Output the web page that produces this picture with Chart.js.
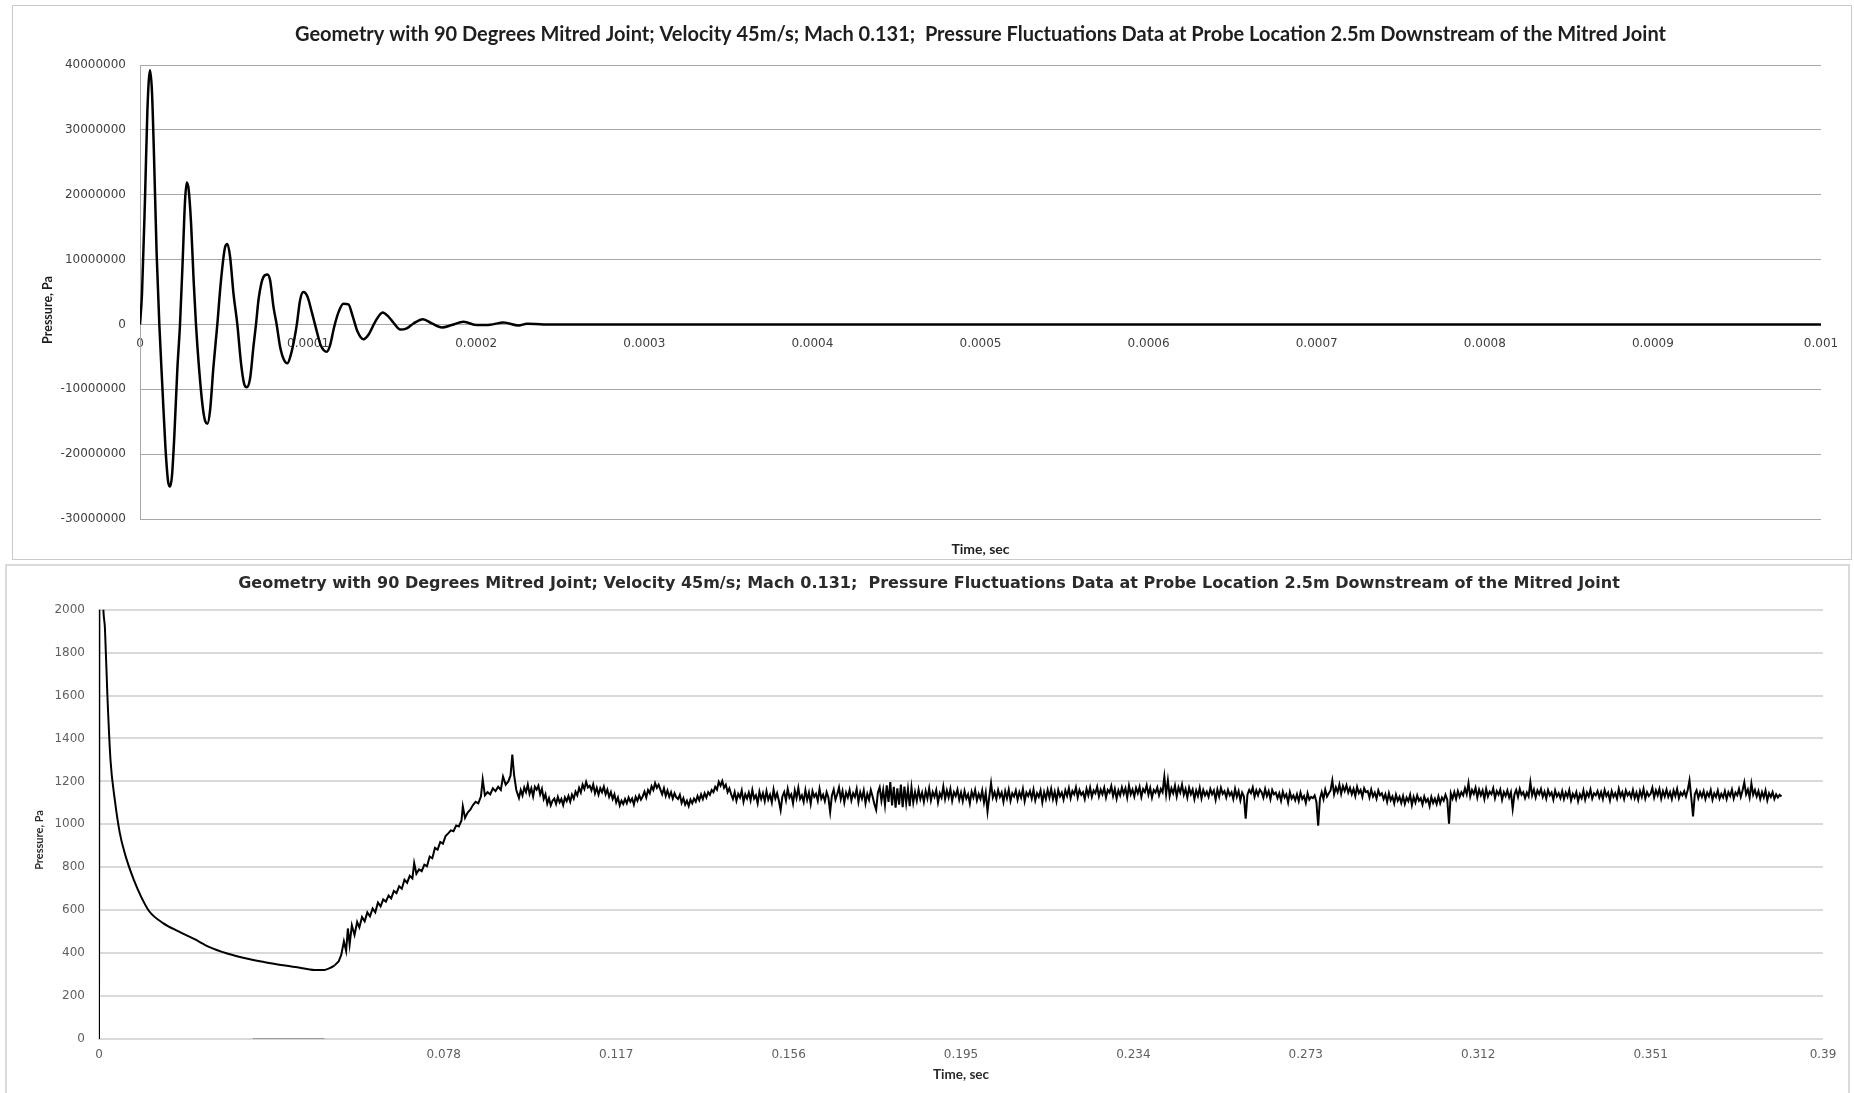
<!DOCTYPE html>
<html>
<head>
<meta charset="utf-8">
<title>Pressure fluctuations – 90° mitred joint</title>
<script src="https://cdn.jsdelivr.net/npm/chart.js@4.4.1/dist/chart.umd.min.js"></script>
<style>
  html, body { margin: 0; padding: 0; background: #fff; width: 1854px; height: 1093px; overflow: hidden; }
  .panel { position: absolute; box-sizing: border-box; background: #fff; }
  #panelA { left: 12px; top: 5px; width: 1840px; height: 555px; border: 1px solid #c9c9c9; }
  #panelB { left: 5px; top: 564px; width: 1845px; height: 540px; border: 2px solid #dadada; }
  canvas { display: block; }
</style>
</head>
<body>
<div class="panel" id="panelA"><canvas id="chartA" width="1838" height="553"></canvas></div>
<div class="panel" id="panelB"><canvas id="chartB" width="1841" height="527"></canvas></div>
<script>
const chartTitle = 'Geometry with 90 Degrees Mitred Joint; Velocity 45m/s; Mach 0.131;  Pressure Fluctuations Data at Probe Location 2.5m Downstream of the Mitred Joint';

// ---- Panel A: initial pressure transient, first millisecond ----
// time in microseconds
const timeA_us = [
  0, 1.2, 3.0, 4.4, 5.95, 7.1, 8.3, 9.9, 11.5, 13.3,
  15.1, 16.7, 17.9, 19.0, 20.4, 22.2, 23.8, 25.4, 26.8, 27.8,
  28.9, 30.4, 31.9, 33.3, 34.9, 37.3, 38.9, 40.1, 41.7, 43.7,
  46.0, 48.0, 50.6, 52.0, 53.6, 55.6, 57.9, 60.1, 61.9, 63.5,
  65.5, 67.5, 69.0, 70.6, 73.4, 75.8, 77.4, 79.4, 81.3, 83.3,
  85.7, 87.7, 89.7, 91.7, 93.3, 95.2, 97.2, 99.6, 102.2, 105.2,
  107.5, 111.1, 113.1, 115.5, 118.1, 121.0, 124.0, 126.6, 129.4, 132.9,
  135.9, 139.9, 144.4, 147.8, 150.8, 154.8, 158.7, 162.7, 168.3, 173.6,
  179.6, 185.5, 192.5, 200.4, 208.3, 216.3, 225.2, 230.2, 240, 1000
];
// pressure in Pa
const pressureA = [
  0, 4800000, 19600000, 33000000, 39200000, 36000000, 26300000, 10900000, 0, -9600000,
  -18800000, -24200000, -25000000, -23400000, -17300000, -7000000, 0, 9900000, 19100000, 21900000,
  20900000, 15500000, 6800000, 0, -6000000, -12700000, -15000000, -15300000, -13200000, -6500000,
  0, 6300000, 11900000, 12400000, 10400000, 4800000, 0, -6000000, -9100000, -9700000,
  -8300000, -3400000, 0, 4000000, 7300000, 7700000, 6800000, 2700000, 0, -3400000,
  -5500000, -6000000, -4700000, -2400000, 0, 3700000, 5000000, 4300000, 1900000, -1100000,
  -3200000, -4200000, -3200000, -400000, 1900000, 3200000, 3100000, 1200000, -1100000, -2300000,
  -1600000, 400000, 1850000, 1200000, 260000, -800000, -600000, 150000, 800000, 150000,
  -460000, -100000, 400000, -100000, -50000, 300000, -150000, 100000, 0, 0
];
const xTicksA = [0, 0.0001, 0.0002, 0.0003, 0.0004, 0.0005, 0.0006, 0.0007, 0.0008, 0.0009, 0.001];
const xTickLabelsA = ['0', '0.0001', '0.0002', '0.0003', '0.0004', '0.0005', '0.0006', '0.0007', '0.0008', '0.0009', '0.001'];
const yTicksA = [-30000000, -20000000, -10000000, 0, 10000000, 20000000, 30000000, 40000000];
const yTickLabelsA = ['-30000000', '-20000000', '-10000000', '0', '10000000', '20000000', '30000000', '40000000'];

// ---- Panel B: pressure history over the whole run ----
// start-up spike and smooth decay (time in ms, pressure in Pa)
const decayTimeB_ms = [
  0, 0.15, 0.9, 1.35, 1.9, 2.6, 3.6, 4.7, 5.9, 7.9,
  9.6, 11.4, 14.5, 18.0, 21.5, 25.0, 29.0, 33.1, 37.5, 42.1,
  46.0, 49.2, 51.0, 52.2, 53.3
];
const decayPressureB = [
  0, 3000, 2050, 1910, 1600, 1300, 1110, 960, 860, 740,
  660, 594, 540, 501, 466, 428, 398, 376, 358, 342,
  330, 321, 322, 330, 343
];
// recovery and fluctuating plateau (time in ms, pressure in Pa)
const timeB_ms = [
  53.3,
  54.2, 54.8, 55.4, 55.9, 56.3, 56.7, 57.2, 57.8, 58.4, 58.9,
  59.5, 60.1, 60.7, 61.3, 61.9, 62.5, 63.1, 63.7, 64.3, 64.9,
  65.5, 66.1, 66.7, 67.3, 67.9, 68.5, 69.1, 69.7, 70.3, 70.9,
  71.3, 71.8, 72.4, 73.0, 73.6, 74.2, 74.8, 75.4, 76.0, 76.6,
  77.2, 77.8, 78.4, 79.0, 79.6, 80.2, 80.8, 81.4, 82.0, 82.3,
  82.8, 83.4, 84.0, 84.6, 85.2, 85.8, 86.4, 86.8, 87.3, 87.9,
  88.5, 89.1, 89.7, 90.3, 90.9, 91.4, 92.0, 92.6, 93.1, 93.5,
  93.9, 94.4,
  95.0, 95.4, 95.8, 96.2, 96.6, 97.0, 97.4, 97.8, 98.2, 98.6,
  99.0, 99.4, 99.8, 100.2, 100.6, 101.0, 101.4, 101.8, 102.2, 102.6,
  103.0, 103.4, 103.8, 104.2, 104.6, 105.0, 105.4, 105.8, 106.2, 106.6,
  107.0, 107.4, 107.8, 108.2, 108.6, 109.0, 109.4, 109.8, 110.2, 110.6,
  111.0, 111.4, 111.8, 112.2, 112.6, 113.0, 113.4, 113.8, 114.2, 114.6,
  115.0, 115.4, 115.8, 116.2, 116.6, 117.0, 117.4, 117.8, 118.2, 118.6,
  119.0, 119.4, 119.8, 120.2, 120.6, 121.0, 121.4, 121.8, 122.2, 122.6,
  123.0, 123.4, 123.8, 124.2, 124.6, 125.0, 125.4, 125.8, 126.2, 126.6,
  127.0, 127.4, 127.8, 128.2, 128.6, 129.0, 129.4, 129.8, 130.2, 130.6,
  131.0, 131.4, 131.8, 132.2, 132.6, 133.0, 133.4, 133.8, 134.2, 134.6,
  135.0, 135.4, 135.8, 136.2, 136.6, 137.0, 137.4, 137.8, 138.2, 138.6,
  139.0, 139.4, 139.8, 140.2, 140.6, 141.0, 141.4, 141.8, 142.2, 142.6,
  143.0, 143.4, 143.8, 144.2, 144.6, 145.0, 145.4, 145.8, 146.2, 146.6,
  147.0, 147.4, 147.8, 148.2, 148.6, 149.0, 149.4, 149.8, 150.2, 150.6,
  151.0, 151.4, 151.8, 152.2, 152.6, 153.0, 153.4, 153.8, 154.2, 154.6,
  155.0, 155.4, 155.8, 156.2, 156.6, 157.0, 157.4, 157.8, 158.2, 158.6,
  159.0, 159.4, 159.8, 160.2, 160.6, 161.0, 161.4, 161.8, 162.2, 162.6,
  163.0, 163.4, 163.8, 164.2, 164.6, 165.0, 165.4, 165.8, 166.2, 166.6,
  167.0, 167.4, 167.8, 168.2, 168.6, 169.0, 169.4, 169.8, 170.2, 170.6,
  171.0, 171.4, 171.8, 172.2, 172.6, 173.0, 173.4, 173.8, 174.2, 174.6,
  175.0, 175.4, 175.8, 176.2, 176.6, 177.0, 177.4, 177.8, 178.2, 178.6,
  179.0, 179.4, 179.8, 180.2, 180.6, 181.0, 181.4, 181.8, 182.2, 182.6,
  183.0, 183.4, 183.8, 184.2, 184.6, 185.0, 185.4, 185.8, 186.2, 186.6,
  187.0, 187.4, 187.8, 188.2, 188.6, 189.0, 189.4, 189.8, 190.2, 190.6,
  191.0, 191.4, 191.8, 192.2, 192.6, 193.0, 193.4, 193.8, 194.2, 194.6,
  195.0, 195.4, 195.8, 196.2, 196.6, 197.0, 197.4, 197.8, 198.2, 198.6,
  199.0, 199.4, 199.8, 200.2, 200.6, 201.0, 201.4, 201.8, 202.2, 202.6,
  203.0, 203.4, 203.8, 204.2, 204.6, 205.0, 205.4, 205.8, 206.2, 206.6,
  207.0, 207.4, 207.8, 208.2, 208.6, 209.0, 209.4, 209.8, 210.2, 210.6,
  211.0, 211.4, 211.8, 212.2, 212.6, 213.0, 213.4, 213.8, 214.2, 214.6,
  215.0, 215.4, 215.8, 216.2, 216.6, 217.0, 217.4, 217.8, 218.2, 218.6,
  219.0, 219.4, 219.8, 220.2, 220.6, 221.0, 221.4, 221.8, 222.2, 222.6,
  223.0, 223.4, 223.8, 224.2, 224.6, 225.0, 225.4, 225.8, 226.2, 226.6,
  227.0, 227.4, 227.8, 228.2, 228.6, 229.0, 229.4, 229.8, 230.2, 230.6,
  231.0, 231.4, 231.8, 232.2, 232.6, 233.0, 233.4, 233.8, 234.2, 234.6,
  235.0, 235.4, 235.8, 236.2, 236.6, 237.0, 237.4, 237.8, 238.2, 238.6,
  239.0, 239.4, 239.8, 240.2, 240.6, 241.0, 241.4, 241.8, 242.2, 242.6,
  243.0, 243.4, 243.8, 244.2, 244.6, 245.0, 245.4, 245.8, 246.2, 246.6,
  247.0, 247.4, 247.8, 248.2, 248.6, 249.0, 249.4, 249.8, 250.2, 250.6,
  251.0, 251.4, 251.8, 252.2, 252.6, 253.0, 253.4, 253.8, 254.2, 254.6,
  255.0, 255.4, 255.8, 256.2, 256.6, 257.0, 257.4, 257.8, 258.2, 258.6,
  259.0, 259.4, 259.8, 260.2, 260.6, 261.0, 261.4, 261.8, 262.2, 262.6,
  263.0, 263.4, 263.8, 264.2, 264.6, 265.0, 265.4, 265.8, 266.2, 266.6,
  267.0, 267.4, 267.8, 268.2, 268.6, 269.0, 269.4, 269.8, 270.2, 270.6,
  271.0, 271.4, 271.8, 272.2, 272.6, 273.0, 273.4, 273.8, 274.2, 274.6,
  275.0, 275.4, 275.8, 276.2, 276.6, 277.0, 277.4, 277.8, 278.2, 278.6,
  279.0, 279.4, 279.8, 280.2, 280.6, 281.0, 281.4, 281.8, 282.2, 282.6,
  283.0, 283.4, 283.8, 284.2, 284.6, 285.0, 285.4, 285.8, 286.2, 286.6,
  287.0, 287.4, 287.8, 288.2, 288.6, 289.0, 289.4, 289.8, 290.2, 290.6,
  291.0, 291.4, 291.8, 292.2, 292.6, 293.0, 293.4, 293.8, 294.2, 294.6,
  295.0, 295.4, 295.8, 296.2, 296.6, 297.0, 297.4, 297.8, 298.2, 298.6,
  299.0, 299.4, 299.8, 300.2, 300.6, 301.0, 301.4, 301.8, 302.2, 302.6,
  303.0, 303.4, 303.8, 304.2, 304.6, 305.0, 305.4, 305.8, 306.2, 306.6,
  307.0, 307.4, 307.8, 308.2, 308.6, 309.0, 309.4, 309.8, 310.2, 310.6,
  311.0, 311.4, 311.8, 312.2, 312.6, 313.0, 313.4, 313.8, 314.2, 314.6,
  315.0, 315.4, 315.8, 316.2, 316.6, 317.0, 317.4, 317.8, 318.2, 318.6,
  319.0, 319.4, 319.8, 320.2, 320.6, 321.0, 321.4, 321.8, 322.2, 322.6,
  323.0, 323.4, 323.8, 324.2, 324.6, 325.0, 325.4, 325.8, 326.2, 326.6,
  327.0, 327.4, 327.8, 328.2, 328.6, 329.0, 329.4, 329.8, 330.2, 330.6,
  331.0, 331.4, 331.8, 332.2, 332.6, 333.0, 333.4, 333.8, 334.2, 334.6,
  335.0, 335.4, 335.8, 336.2, 336.6, 337.0, 337.4, 337.8, 338.2, 338.6,
  339.0, 339.4, 339.8, 340.2, 340.6, 341.0, 341.4, 341.8, 342.2, 342.6,
  343.0, 343.4, 343.8, 344.2, 344.6, 345.0, 345.4, 345.8, 346.2, 346.6,
  347.0, 347.4, 347.8, 348.2, 348.6, 349.0, 349.4, 349.8, 350.2, 350.6,
  351.0, 351.4, 351.8, 352.2, 352.6, 353.0, 353.4, 353.8, 354.2, 354.6,
  355.0, 355.4, 355.8, 356.2, 356.6, 357.0, 357.4, 357.8, 358.2, 358.6,
  359.0, 359.4, 359.8, 360.2, 360.6, 361.0, 361.4, 361.8, 362.2, 362.6,
  363.0, 363.4, 363.8, 364.2, 364.6, 365.0, 365.4, 365.8, 366.2, 366.6,
  367.0, 367.4, 367.8, 368.2, 368.6, 369.0, 369.4, 369.8, 370.2, 370.6,
  371.0, 371.4, 371.8, 372.2, 372.6, 373.0, 373.4, 373.8, 374.2, 374.6,
  375.0, 375.4, 375.8, 376.2, 376.6, 377.0, 377.4, 377.8, 378.2, 378.6,
  379.0, 379.4, 379.8, 380.2, 380.6
];
const pressureB = [
  343,
  361, 392, 455, 410, 515, 440, 530, 485, 545, 520,
  568, 548, 590, 572, 608, 590, 636, 618, 650, 640,
  668, 655, 690, 680, 712, 700, 742, 728, 760, 748,
  820, 770, 790, 782, 812, 805, 850, 842, 890, 882,
  918, 910, 945, 958, 972, 968, 995, 990, 1018, 1084,
  1030, 1055, 1068, 1090, 1105, 1098, 1130, 1209, 1135, 1150,
  1140, 1168, 1155, 1175, 1160, 1222, 1185, 1200, 1228, 1325,
  1230, 1160,
  1123, 1160, 1135, 1172, 1150, 1185, 1142, 1168, 1130, 1175,
  1162, 1180, 1140, 1165, 1118, 1140, 1096, 1122, 1088, 1110,
  1120, 1095, 1128, 1102, 1118, 1090, 1125, 1108, 1132, 1105,
  1139, 1120, 1152, 1135, 1170, 1148, 1185, 1165, 1198, 1172,
  1180, 1158, 1186, 1145, 1170, 1138, 1168, 1150, 1175, 1140,
  1162, 1128, 1150, 1118, 1140, 1102, 1125, 1088, 1110, 1095,
  1118, 1098, 1125, 1105, 1120, 1092, 1128, 1110, 1135, 1115,
  1130, 1152, 1125, 1160, 1145, 1178, 1160, 1192, 1170, 1185,
  1162, 1140, 1168, 1132, 1158, 1128, 1150, 1120, 1145, 1126,
  1118, 1138, 1100, 1122, 1092, 1110, 1085, 1115, 1098, 1120,
  1105, 1132, 1112, 1140, 1118, 1145, 1125, 1150, 1138, 1160,
  1150, 1175, 1162, 1198, 1180, 1202, 1170, 1185, 1150, 1168,
  1140, 1118, 1150, 1110, 1142, 1125, 1158, 1105, 1140, 1120,
  1148, 1112, 1160, 1120, 1135, 1098, 1152, 1118, 1145, 1108,
  1155, 1115, 1138, 1102, 1162, 1120, 1145, 1110, 1066, 1130,
  1150, 1112, 1165, 1125, 1140, 1098, 1158, 1122, 1170, 1118,
  1135, 1105, 1160, 1115, 1148, 1096, 1155, 1128, 1142, 1110,
  1165, 1120, 1138, 1108, 1150, 1125, 1058, 1135, 1162, 1115,
  1140, 1172, 1118, 1155, 1102, 1148, 1125, 1160, 1112, 1145,
  1128, 1165, 1105, 1150, 1120, 1158, 1098, 1142, 1115, 1160,
  1130, 1095, 1068, 1148, 1172, 1110, 1160, 1090, 1182, 1105,
  1197, 1088, 1175, 1078, 1168, 1092, 1185, 1080, 1176, 1098,
  1165, 1085, 1172, 1102, 1150, 1110, 1162, 1118, 1148, 1105,
  1155, 1120, 1168, 1112, 1150, 1128, 1160, 1102, 1145, 1125,
  1176, 1118, 1158, 1125, 1165, 1110, 1150, 1132, 1162, 1115,
  1148, 1108, 1155, 1120, 1140, 1098, 1152, 1125, 1160, 1112,
  1142, 1118, 1158, 1102, 1148, 1060, 1130, 1192, 1125, 1150,
  1118, 1160, 1128, 1148, 1105, 1155, 1122, 1162, 1110, 1145,
  1130, 1158, 1115, 1150, 1125, 1165, 1108, 1148, 1132, 1155,
  1120, 1162, 1112, 1145, 1128, 1158, 1102, 1150, 1118, 1160,
  1125, 1165, 1118, 1152, 1108, 1160, 1130, 1148, 1115, 1158,
  1132, 1168, 1122, 1155, 1140, 1172, 1125, 1160, 1138, 1150,
  1118, 1165, 1135, 1172, 1128, 1158, 1145, 1175, 1130, 1162,
  1140, 1170, 1125, 1160, 1148, 1178, 1132, 1165, 1120, 1158,
  1135, 1172, 1142, 1168, 1125, 1180, 1140, 1162, 1130, 1170,
  1145, 1175, 1128, 1165, 1150, 1182, 1138, 1170, 1125, 1160,
  1148, 1172, 1135, 1165, 1150, 1222, 1140, 1205, 1132, 1168,
  1145, 1180, 1130, 1172, 1148, 1185, 1138, 1165, 1125, 1170,
  1140, 1162, 1118, 1158, 1132, 1170, 1122, 1160, 1135, 1152,
  1128, 1165, 1140, 1158, 1115, 1162, 1130, 1170, 1142, 1155,
  1125, 1160, 1135, 1150, 1118, 1165, 1128, 1155, 1112, 1148,
  1130, 1027, 1138, 1160, 1145, 1172, 1128, 1158, 1135, 1162,
  1150, 1125, 1165, 1132, 1155, 1118, 1160, 1140, 1148, 1122,
  1145, 1110, 1152, 1125, 1140, 1102, 1150, 1120, 1135, 1112,
  1140, 1108, 1148, 1118, 1132, 1100, 1145, 1115, 1128, 1122,
  1135, 1105, 994, 1120, 1150, 1118, 1162, 1130, 1145, 1158,
  1205, 1140, 1172, 1150, 1185, 1142, 1178, 1155, 1182, 1148,
  1170, 1140, 1165, 1132, 1175, 1145, 1160, 1128, 1168, 1150,
  1155, 1125, 1162, 1130, 1148, 1120, 1158, 1135, 1145, 1118,
  1140, 1105, 1145, 1112, 1130, 1098, 1138, 1110, 1128, 1100,
  1132, 1095, 1125, 1108, 1138, 1090, 1128, 1102, 1135, 1110,
  1122, 1092, 1130, 1105, 1118, 1085, 1128, 1100, 1120, 1095,
  1130, 1098, 1125, 1110, 1138, 1115, 1003, 1145, 1120, 1150,
  1118, 1155, 1128, 1150, 1135, 1168, 1140, 1192, 1130, 1160,
  1142, 1170, 1125, 1162, 1135, 1158, 1118, 1165, 1130, 1152,
  1140, 1168, 1122, 1155, 1138, 1162, 1115, 1150, 1132, 1158,
  1125, 1150, 1073, 1140, 1160, 1128, 1165, 1138, 1150, 1122,
  1148, 1130, 1196, 1135, 1162, 1125, 1158, 1140, 1165, 1128,
  1152, 1120, 1160, 1135, 1148, 1115, 1158, 1130, 1145, 1122,
  1155, 1118, 1148, 1128, 1160, 1112, 1142, 1125, 1150, 1108,
  1140, 1122, 1158, 1115, 1148, 1130, 1162, 1120, 1145, 1135,
  1155, 1125, 1150, 1118, 1160, 1132, 1148, 1112, 1155, 1128,
  1145, 1120, 1165, 1130, 1150, 1118, 1158, 1135, 1148, 1125,
  1160, 1122, 1148, 1115, 1155, 1128, 1165, 1120, 1150, 1132,
  1142, 1170, 1125, 1158, 1135, 1165, 1120, 1155, 1130, 1162,
  1128, 1150, 1118, 1158, 1132, 1165, 1122, 1148, 1135, 1155,
  1130, 1160, 1205, 1125, 1037, 1140, 1158, 1122, 1150, 1128,
  1155, 1118, 1148, 1130, 1160, 1115, 1145, 1128, 1158, 1120,
  1142, 1125, 1155, 1118, 1150, 1132, 1162, 1120, 1148, 1135,
  1165, 1128, 1158, 1196, 1140, 1162, 1125, 1190, 1138, 1160,
  1130, 1155, 1118, 1150, 1125, 1158, 1112, 1145, 1128, 1150,
  1118, 1140, 1125, 1138, 1130
];
// short grey stroke lying on the zero line
const baseMarkTimeB_ms = [34.8, 51.0];
const baseMarkValueB = [0, 0];

const xTicksB = [0, 0.039, 0.078, 0.117, 0.156, 0.195, 0.234, 0.273, 0.312, 0.351, 0.39];
const xTickLabelsB = ['0', '', '0.078', '0.117', '0.156', '0.195', '0.234', '0.273', '0.312', '0.351', '0.39'];
const yTicksB = [0, 200, 400, 600, 800, 1000, 1200, 1400, 1600, 1800, 2000];
const yTickLabelsB = ['0', '200', '400', '600', '800', '1000', '1200', '1400', '1600', '1800', '2000'];

// vertical axis caption drawn beside the value labels
const sideTitle = {
  id: 'sideTitle',
  afterDraw(chart, args, opts) {
    const ctx = chart.ctx;
    ctx.save();
    ctx.translate(opts.x, opts.y);
    ctx.rotate(-Math.PI / 2);
    ctx.font = opts.font;
    ctx.fillStyle = opts.color;
    ctx.textAlign = 'center';
    ctx.textBaseline = 'middle';
    ctx.fillText(opts.text, 0, 0);
    ctx.restore();
  }
};

const tickFont = { family: 'DejaVu Sans', size: 12 };
const toPoints = (times, values, scale) => times.map((t, i) => ({ x: t * scale, y: values[i] }));

new Chart(document.getElementById('chartA'), {
  type: 'line',
  data: {
    datasets: [{
      data: toPoints(timeA_us, pressureA, 1e-6),
      xAxisID: 'x', yAxisID: 'y',
      borderColor: '#000', borderWidth: 2.5, pointRadius: 0,
      cubicInterpolationMode: 'monotone', fill: false
    }]
  },
  options: {
    responsive: false, animation: false, devicePixelRatio: 1,
    layout: { padding: { left: 0, right: 30, top: 0, bottom: 0 } },
    plugins: {
      legend: { display: false },
      tooltip: { enabled: false },
      title: {
        display: true, fullSize: false, text: chartTitle, color: '#1e1e1e',
        font: { family: 'Lato', size: 20, weight: 'bold' },
        padding: { top: 17, bottom: 18 }
      },
      sideTitle: { text: 'Pressure, Pa', x: 34.5, y: 304, font: 'bold 12.5px Lato', color: '#1e1e1e' }
    },
    scales: {
      x: {
        type: 'linear', axis: 'x', min: 0, max: 0.001, position: { y: 0 },
        afterBuildTicks: s => { s.ticks = xTicksA.map(v => ({ value: v })); },
        ticks: { callback: (v, i) => xTickLabelsA[i], font: tickFont, color: '#404040', padding: 12, maxRotation: 0, autoSkip: false },
        grid: { display: false, drawTicks: false },
        border: { display: false }
      },
      xt: {
        type: 'linear', axis: 'x', min: 0, max: 0.001, position: 'bottom',
        ticks: { display: false },
        grid: { display: false, drawTicks: false },
        border: { display: false },
        title: { display: true, text: 'Time, sec', color: '#1e1e1e', font: { family: 'Lato', size: 14, weight: 'bold' }, padding: { top: 0, bottom: 1.6 } },
        afterFit: s => { s.height = 40; }
      },
      y: {
        type: 'linear', min: -30000000, max: 40000000,
        afterBuildTicks: s => { s.ticks = yTicksA.map(v => ({ value: v })); },
        ticks: { callback: (v, i) => yTickLabelsA[i], font: tickFont, color: '#404040', padding: 14 },
        grid: { color: '#a8a8a8', lineWidth: 1, drawTicks: false },
        border: { display: true, color: '#a8a8a8', width: 1 },
        afterFit: s => { s.width = 127; }
      }
    }
  },
  plugins: [sideTitle]
});

new Chart(document.getElementById('chartB'), {
  type: 'line',
  data: {
    datasets: [{
      data: toPoints(baseMarkTimeB_ms, baseMarkValueB, 1e-3),
      borderColor: '#9a9a9a', borderWidth: 2, pointRadius: 0, fill: false
    }, {
      data: toPoints(decayTimeB_ms, decayPressureB, 1e-3),
      borderColor: '#000', borderWidth: 2, pointRadius: 0,
      cubicInterpolationMode: 'monotone', fill: false
    }, {
      data: toPoints(timeB_ms, pressureB, 1e-3),
      borderColor: '#000', borderWidth: 2, pointRadius: 0, tension: 0, fill: false
    }]
  },
  options: {
    responsive: false, animation: false, devicePixelRatio: 1,
    layout: { padding: { left: 28, right: 25, top: 0, bottom: 0 } },
    plugins: {
      legend: { display: false },
      tooltip: { enabled: false },
      title: {
        display: true, text: chartTitle, color: '#2b2b2b',
        font: { family: 'DejaVu Sans', size: 16, weight: 'bold' },
        padding: { top: 8.5, bottom: 16 }
      },
      sideTitle: { text: 'Pressure, Pa', x: 32, y: 274, font: 'bold 11px Lato', color: '#2b2b2b' }
    },
    scales: {
      x: {
        type: 'linear', min: 0, max: 0.39, position: 'bottom',
        afterBuildTicks: s => { s.ticks = xTicksB.map(v => ({ value: v })); },
        ticks: { callback: (v, i) => xTickLabelsB[i], font: tickFont, color: '#5f5f5f', padding: 9, maxRotation: 0, autoSkip: false },
        grid: { display: false, drawTicks: false },
        border: { display: false },
        title: { display: true, text: 'Time, sec', color: '#2b2b2b', font: { family: 'Lato', size: 13.5, weight: 'bold' }, padding: { top: 0, bottom: 10.6 } },
        afterFit: s => { s.height = 54; }
      },
      y: {
        type: 'linear', min: 0, max: 2000,
        afterBuildTicks: s => { s.ticks = yTicksB.map(v => ({ value: v })); },
        ticks: { callback: (v, i) => yTickLabelsB[i], font: tickFont, color: '#5f5f5f', padding: 14 },
        grid: { color: '#d9d9d9', lineWidth: 2, drawTicks: false },
        border: { display: true, color: '#d9d9d9', width: 2 },
        afterFit: s => { s.width = 64; }
      }
    }
  },
  plugins: [sideTitle]
});
</script>
</body>
</html>
